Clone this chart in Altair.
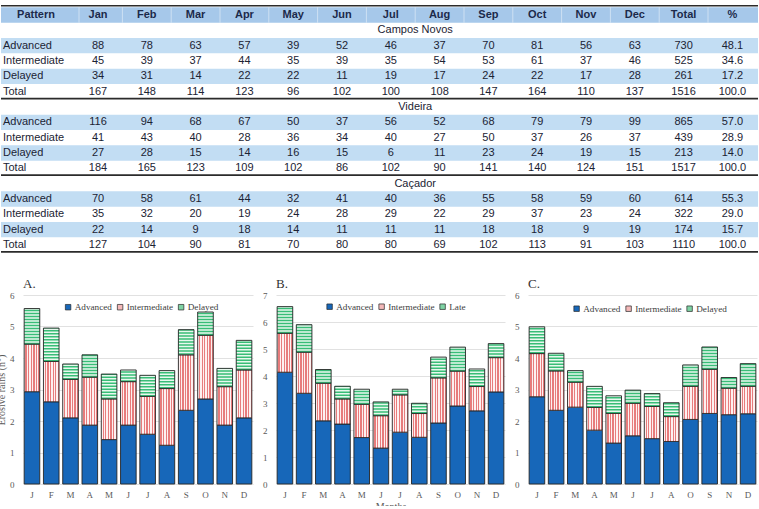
import altair as alt
import pandas as pd

# ---------------- table values ----------------
MONTHS = ["Jan", "Feb", "Mar", "Apr", "May", "Jun", "Jul", "Aug", "Sep", "Oct", "Nov", "Dec"]
HEADER = ["Pattern"] + MONTHS + ["Total", "%"]
PATTERNS = ["Advanced", "Intermediate", "Delayed", "Total"]
SITES = ["Campos Novos", "Videira", "Caçador"]

# counts per month followed by the yearly total
campos_novos = {
    "Advanced": [88, 78, 63, 57, 39, 52, 46, 37, 70, 81, 56, 63, 730],
    "Intermediate": [45, 39, 37, 44, 35, 39, 35, 54, 53, 61, 37, 46, 525],
    "Delayed": [34, 31, 14, 22, 22, 11, 19, 17, 24, 22, 17, 28, 261],
    "Total": [167, 148, 114, 123, 96, 102, 100, 108, 147, 164, 110, 137, 1516],
}
campos_novos_pct = [48.1, 34.6, 17.2, 100.0]

videira = {
    "Advanced": [116, 94, 68, 67, 50, 37, 56, 52, 68, 79, 79, 99, 865],
    "Intermediate": [41, 43, 40, 28, 36, 34, 40, 27, 50, 37, 26, 37, 439],
    "Delayed": [27, 28, 15, 14, 16, 15, 6, 11, 23, 24, 19, 15, 213],
    "Total": [184, 165, 123, 109, 102, 86, 102, 90, 141, 140, 124, 151, 1517],
}
videira_pct = [57.0, 28.9, 14.0, 100.0]

cacador = {
    "Advanced": [70, 58, 61, 44, 32, 41, 40, 36, 55, 58, 59, 60, 614],
    "Intermediate": [35, 32, 20, 19, 24, 28, 29, 22, 29, 37, 23, 24, 322],
    "Delayed": [22, 14, 9, 18, 14, 11, 11, 11, 18, 18, 9, 19, 174],
    "Total": [127, 104, 90, 81, 70, 80, 80, 69, 102, 113, 91, 103, 1110],
}
cacador_pct = [55.3, 29.0, 15.7, 100.0]

# ---------------- chart values (erosive rains per month) ----------------
MONTH_LETTERS_AB = ["J", "F", "M", "A", "M", "J", "J", "A", "S", "O", "N", "D"]
MONTH_LETTERS_C = ["J", "F", "M", "A", "M", "J", "J", "A", "O", "S", "N", "D"]

a_adv = [2.93, 2.61, 2.10, 1.87, 1.41, 1.87, 1.58, 1.23, 2.34, 2.70, 1.87, 2.10]
a_int = [1.51, 1.28, 1.22, 1.52, 1.29, 1.38, 1.20, 1.80, 1.76, 2.02, 1.22, 1.52]
a_del = [1.13, 1.06, 0.49, 0.71, 0.79, 0.37, 0.67, 0.57, 0.80, 0.74, 0.58, 0.94]

b_adv = [4.14, 3.36, 2.34, 2.22, 1.72, 1.33, 1.92, 1.73, 2.26, 2.89, 2.71, 3.41]
b_int = [1.44, 1.52, 1.39, 0.93, 1.23, 1.20, 1.38, 0.88, 1.67, 1.29, 0.90, 1.27]
b_del = [0.99, 1.02, 0.51, 0.47, 0.56, 0.51, 0.21, 0.38, 0.77, 0.89, 0.65, 0.52]

c_adv = [2.77, 2.34, 2.44, 1.71, 1.30, 1.53, 1.44, 1.35, 2.05, 2.24, 2.20, 2.23]
c_int = [1.37, 1.25, 0.79, 0.72, 0.94, 1.03, 1.02, 0.79, 1.05, 1.40, 0.84, 0.87]
c_del = [0.85, 0.56, 0.37, 0.67, 0.56, 0.42, 0.41, 0.44, 0.68, 0.71, 0.34, 0.72]

SERIES_A = ["Advanced", "Intermediate", "Delayed"]
SERIES_B = ["Advanced", "Intermediate", "Late"]
SERIES_C = ["Advanced", "Intermediate", "Delayed"]

# ---------------- styling ----------------
SANS = "Liberation Sans, Arial, sans-serif"
SERIF = "Liberation Serif, Times New Roman, serif"
HEAD_BG = "#a6c8ea"
BAND_BG = "#c2ddf3"
TEXT = "#1b2333"
HEAD_TEXT = "#1c2a4a"
BLUE = "#1767b9"
PINK_LINE = "#e77c7c"
PINK_GAP = "#fdf0f0"
PINK_LEGEND = "#f4b9b9"
GREEN_LINE = "#38bd77"
GREEN_GAP = "#e8f8ee"
GREEN_LEGEND = "#7fd3a4"
EDGE = "#262626"
BAR_W = 15.6
FS = 11

# ---------------- table geometry ----------------
# column pitch and first-month centre, row pitch and header centre (page pixels)
COL_STEP, COL0 = 48.8, 97.0
ROW_STEP, ROW0 = 15.33, 15.0
# where the table view's origin lands on the page, and its size
OX, OY = 22.0, 0.0
TABLE_W, TABLE_H = 735, 255
X_DOM = [(OX - COL0) / COL_STEP, (OX + TABLE_W - COL0) / COL_STEP]
Y_DOM = [(OY - ROW0) / ROW_STEP, (OY + TABLE_H - ROW0) / ROW_STEP]
X_LEFT = (0.0 - COL0) / COL_STEP          # page left edge in column units
X_RIGHT = (757.0 - COL0) / COL_STEP       # page right edge in column units

head_cells, body_cells, labels, sites = [], [], [], []
for h, name in enumerate(HEADER):
    head_cells.append({"c": (35 - COL0) / COL_STEP if name == "Pattern" else h - 1,
                       "r": 0, "t": name})

row = 1
for site, block, pct in zip(SITES, [campos_novos, videira, cacador],
                            [campos_novos_pct, videira_pct, cacador_pct]):
    sites.append({"c": 6.5, "r": row, "t": site})
    row += 1
    for p, name in enumerate(PATTERNS):
        labels.append({"c": (2 - COL0) / COL_STEP, "r": row, "t": name})
        for i, v in enumerate(block[name]):
            body_cells.append({"c": i, "r": row, "t": str(v)})
        body_cells.append({"c": 13, "r": row, "t": f"{pct[p]:.1f}"})
        row += 1

head_df = pd.DataFrame(head_cells)
body_df = pd.DataFrame(body_cells)
labels_df = pd.DataFrame(labels)
sites_df = pd.DataFrame(sites)

band_rows = [2, 4, 7, 9, 12, 14]
bands_df = pd.DataFrame({"r0": [r - 0.5 for r in band_rows], "r1": [r + 0.5 for r in band_rows],
                         "x0": X_LEFT, "x1": X_RIGHT})
headbg_df = pd.DataFrame({"r0": [-0.5], "r1": [0.5], "x0": [X_LEFT], "x1": [X_RIGHT]})
rules_df = pd.DataFrame({"r": [-0.6, 5.45, 10.45, 15.45], "x0": X_LEFT, "x1": X_RIGHT,
                         "w": [1.4, 1.8, 1.8, 1.8]})
# faint column dividers inside the header band
seps_df = pd.DataFrame({"c": [(78 - COL0) / COL_STEP] + [k + 0.5 for k in range(13)],
                        "r0": -0.5, "r1": 0.5})

tx = alt.Scale(domain=X_DOM, nice=False, zero=False)
ty = alt.Scale(domain=Y_DOM, nice=False, zero=False, reverse=True)
X_T = alt.X("c:Q", scale=tx, axis=None)
Y_T = alt.Y("r:Q", scale=ty, axis=None)

head_rect = alt.Chart(headbg_df).mark_rect(color=HEAD_BG).encode(
    x=alt.X("x0:Q", scale=tx, axis=None), x2="x1:Q",
    y=alt.Y("r0:Q", scale=ty, axis=None), y2="r1:Q")
head_seps = alt.Chart(seps_df).mark_rule(color="#ffffff", opacity=0.45, strokeWidth=1).encode(
    x=X_T, y=alt.Y("r0:Q", scale=ty, axis=None), y2="r1:Q")
band_rect = alt.Chart(bands_df).mark_rect(color=BAND_BG).encode(
    x=alt.X("x0:Q", scale=tx, axis=None), x2="x1:Q",
    y=alt.Y("r0:Q", scale=ty, axis=None), y2="r1:Q")
lines = alt.Chart(rules_df).mark_rule(color="#2b2b2b").encode(
    x=alt.X("x0:Q", scale=tx, axis=None), x2="x1:Q",
    y=alt.Y("r:Q", scale=ty, axis=None),
    strokeWidth=alt.StrokeWidth("w:Q", scale=None))
head_text = alt.Chart(head_df).mark_text(font=SANS, fontSize=FS, fontWeight="bold",
                                         align="center", baseline="middle",
                                         color=HEAD_TEXT).encode(x=X_T, y=Y_T, text="t:N")
body_text = alt.Chart(body_df).mark_text(font=SANS, fontSize=FS, align="center",
                                         baseline="middle", color=TEXT).encode(
    x=X_T, y=Y_T, text="t:N")
lab_text = alt.Chart(labels_df).mark_text(font=SANS, fontSize=FS, align="left",
                                          baseline="middle", color=TEXT).encode(
    x=X_T, y=Y_T, text="t:N")
site_text = alt.Chart(sites_df).mark_text(font=SANS, fontSize=FS, align="center",
                                          baseline="middle", color=TEXT).encode(
    x=X_T, y=Y_T, text="t:N")

table = alt.layer(head_rect, head_seps, band_rect, lines, head_text, body_text, lab_text,
                  site_text).properties(width=TABLE_W, height=TABLE_H)


# ---------------- stacked bar panels ----------------
def stripe_stops(n, line, gap, duty=0.5):
    stops = []
    for k in range(n):
        a, b, e = k / n, (k + duty) / n, (k + 1) / n
        stops += [{"offset": a, "color": gap}, {"offset": b, "color": gap},
                  {"offset": b, "color": line}, {"offset": e, "color": line}]
    return stops


VERT_STRIPES = {"gradient": "linear", "x1": 0, "x2": 1, "y1": 0, "y2": 0,
                "stops": stripe_stops(6, PINK_LINE, PINK_GAP, 0.5)}


def panel(letter, letters, series, adv, inter, dela, ymax, width, legend_xy,
          y_title=None, x_title=None):
    df = pd.DataFrame({"m": list(range(12)), "adv": adv, "inter": inter, "dela": dela})
    base = alt.Chart(df).transform_calculate(
        z="0", a1="datum.adv", i1="datum.adv + datum.inter",
        d1="datum.adv + datum.inter + datum.dela",
        s0=f"'{series[0]}'", s1=f"'{series[1]}'", s2=f"'{series[2]}'")
    label_expr = "[" + ",".join(f"'{s}'" for s in letters) + "][datum.value]"
    x = alt.X("m:O", scale=alt.Scale(paddingInner=0.19, paddingOuter=0.06),
              axis=alt.Axis(labelExpr=label_expr, labelAngle=0, labelPadding=6,
                            title=x_title, titlePadding=2))
    yscale = alt.Scale(domain=[0, ymax], nice=False)
    yaxis = alt.Axis(values=list(range(ymax + 1)), labelPadding=9, title=y_title,
                     titlePadding=3)
    fill_scale = alt.Scale(domain=series, range=[BLUE, PINK_LEGEND, GREEN_LEGEND])
    legend = alt.Legend(orient="none", legendX=legend_xy[0], legendY=legend_xy[1],
                        direction="horizontal", title=None, symbolType="square",
                        symbolSize=30, symbolStrokeColor=EDGE, symbolStrokeWidth=0.7,
                        symbolOpacity=1, labelFont=SERIF, labelFontSize=9.2,
                        labelColor="#404040", labelOffset=2, columnPadding=3, padding=0)

    def fill_of(field):
        return alt.Fill(f"{field}:N", scale=fill_scale, legend=legend)

    adv_bar = base.mark_bar(width=BAR_W, stroke=EDGE, strokeWidth=0.9).encode(
        x=x, y=alt.Y("a1:Q", scale=yscale, axis=yaxis), y2="z:Q", fill=fill_of("s0"))
    int_bar = base.mark_bar(width=BAR_W).encode(
        x=x, y=alt.Y("i1:Q", scale=yscale, axis=yaxis), y2="a1:Q", fill=fill_of("s1"))
    del_bar = base.mark_bar(width=BAR_W).encode(
        x=x, y=alt.Y("d1:Q", scale=yscale, axis=yaxis), y2="i1:Q", fill=fill_of("s2"))
    int_pat = base.mark_bar(width=BAR_W, fill=VERT_STRIPES, stroke=EDGE, strokeWidth=0.9).encode(
        x=x, y=alt.Y("i1:Q", scale=yscale, axis=yaxis), y2="a1:Q")
    del_gap = base.mark_bar(width=BAR_W, fill=GREEN_GAP).encode(
        x=x, y=alt.Y("d1:Q", scale=yscale, axis=yaxis), y2="i1:Q")
    del_pat = base.mark_rule(strokeWidth=BAR_W, strokeDash=[1.5, 1.5], color=GREEN_LINE,
                             strokeCap="butt").encode(
        x=x, y=alt.Y("i1:Q", scale=yscale, axis=yaxis), y2="d1:Q")
    del_edge = base.mark_bar(width=BAR_W, fillOpacity=0, stroke=EDGE, strokeWidth=0.9).encode(
        x=x, y=alt.Y("d1:Q", scale=yscale, axis=yaxis), y2="i1:Q")

    return alt.layer(adv_bar, int_bar, del_bar, int_pat, del_gap, del_pat, del_edge).properties(
        width=width, height=189,
        title=alt.Title(letter, anchor="start", frame="group", offset=0))


panel_a = panel("A.", MONTH_LETTERS_AB, SERIES_A, a_adv, a_int, a_del, 6, 230, (40.5, 7.5),
                y_title="Erosive rains (n°)")
panel_b = panel("B.", MONTH_LETTERS_AB, SERIES_B, b_adv, b_int, b_del, 7, 229, (49, 7),
                x_title="Months")
panel_c = panel("C.", MONTH_LETTERS_C, SERIES_C, c_adv, c_int, c_del, 6, 229, (44, 9))

charts = alt.hconcat(panel_a, panel_b, panel_c, spacing=9).resolve_scale(
    x="independent", y="independent", fill="independent").resolve_legend(fill="independent")

chart = alt.vconcat(table, charts, spacing=23).resolve_scale(
    x="independent", y="independent").properties(
    padding={"left": -4, "top": 0, "right": 0, "bottom": -5}
).configure_view(stroke=None).configure_axis(
    labelFont=SERIF, labelFontSize=9, labelColor="#595959",
    titleFont=SERIF, titleFontSize=10, titleColor="#595959", titleFontWeight="normal",
    domain=False, ticks=False, gridColor="#d9d9d9", gridWidth=0.8
).configure_axisX(grid=False).configure_title(
    font=SERIF, fontSize=13, fontWeight="normal", color="#333333"
)

chart.save("out.html", embed_options={"renderer": "svg", "actions": False})
